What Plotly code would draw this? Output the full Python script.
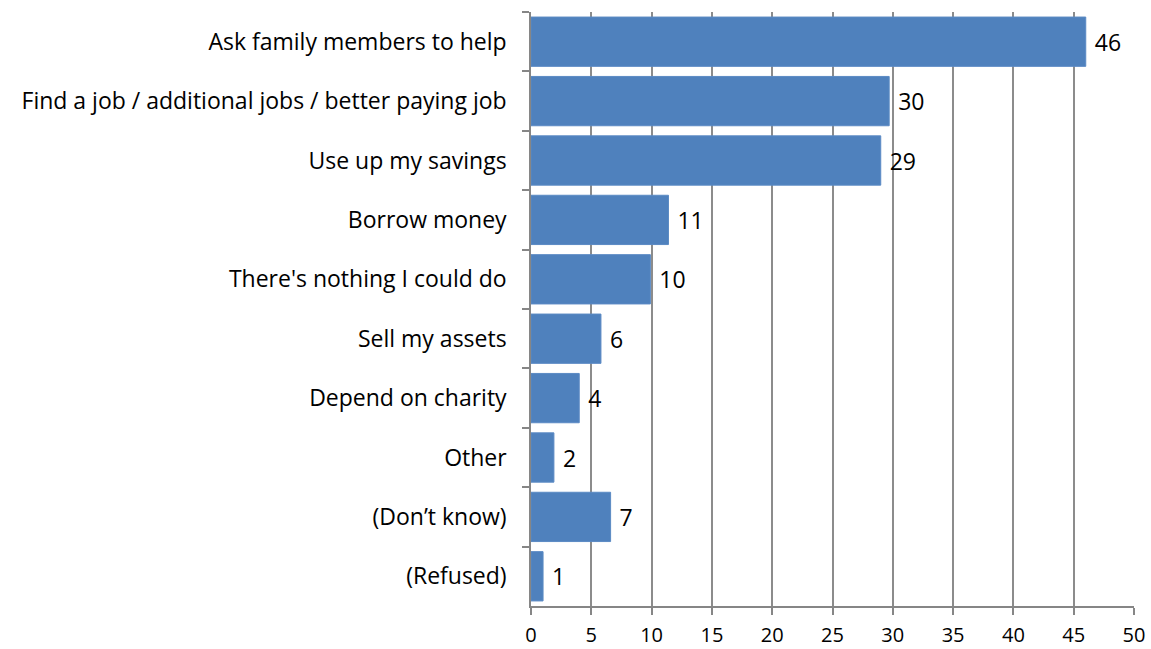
import plotly.graph_objects as go

responses = [
    "Ask family members to help",
    "Find a job / additional jobs / better paying job",
    "Use up my savings",
    "Borrow money",
    "There's nothing I could do",
    "Sell my assets",
    "Depend on charity",
    "Other",
    "(Don\u2019t know)",
    "(Refused)",
]
percent = [46.0, 29.7, 29.0, 11.4, 9.9, 5.8, 4.0, 1.9, 6.6, 1.0]
x_ticks = [0, 5, 10, 15, 20, 25, 30, 35, 40, 45, 50]

FONT = "Open Sans"
FONT_SIZE = 23
AXIS_GREY = "#868686"

fig = go.Figure(
    go.Bar(
        x=percent,
        y=responses,
        orientation="h",
        marker=dict(color="#4F81BD", line=dict(color="#5B8AC4", width=1)),
        text=[" " + f"{v:.0f}" for v in percent],
        textposition="outside",
        textfont=dict(family=FONT, size=FONT_SIZE, color="#000000"),
        cliponaxis=False,
    )
)

fig.update_layout(
    width=1151,
    height=649,
    margin=dict(l=531, r=17, t=12, b=43),
    paper_bgcolor="white",
    plot_bgcolor="white",
    bargap=0.17,
    showlegend=False,
    font=dict(family=FONT, size=FONT_SIZE, color="#000000"),
)

fig.update_xaxes(
    range=[0, 50],
    tickvals=x_ticks,
    ticktext=[str(t) for t in x_ticks],
    showgrid=True,
    gridcolor="#8C8C8C",
    gridwidth=1.5,
    showline=True,
    linecolor=AXIS_GREY,
    linewidth=1.5,
    ticks="outside",
    ticklen=7,
    tickcolor=AXIS_GREY,
    tickwidth=1.5,
    ticklabelstandoff=3,
    zeroline=False,
    automargin=False,
    tickfont=dict(family=FONT, size=20),
)

fig.update_yaxes(
    autorange="reversed",
    showgrid=False,
    showline=True,
    linecolor=AXIS_GREY,
    linewidth=1.5,
    ticks="outside",
    tickson="boundaries",
    ticklen=7,
    tickcolor=AXIS_GREY,
    tickwidth=1.5,
    ticklabelstandoff=18,
    automargin=False,
    tickfont=dict(family=FONT, size=FONT_SIZE),
)

fig.write_html("out.html")
